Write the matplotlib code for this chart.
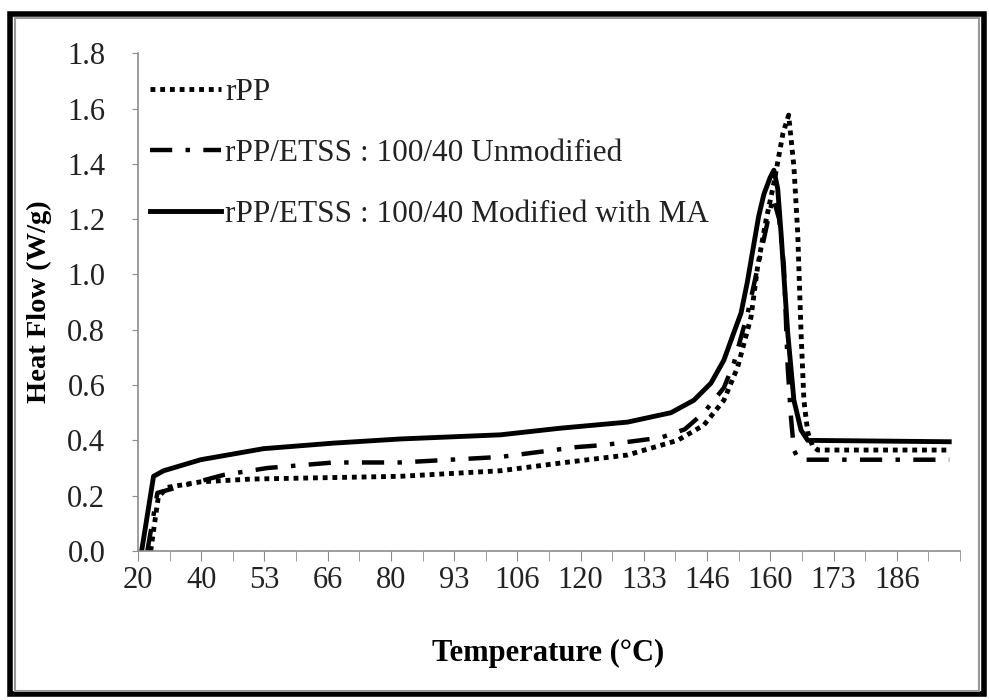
import numpy as np
import matplotlib
matplotlib.use("Agg")
import matplotlib.pyplot as plt
from matplotlib.patches import Rectangle

plt.rcParams['font.family'] = ['Liberation Serif', 'DejaVu Serif']

# temperature (C) and heat flow (W/g)
t_rpp = [29.4, 31.0, 32.9, 39.9, 50.4, 81.8, 102.8, 115.4, 129.5, 140.0, 145.5, 149.7,
         152.6, 155.4, 156.8, 158.6, 160.2, 162.1, 163.3, 164.4, 165.2, 165.9, 166.5,
         167.3, 168.3, 169.4, 197.0]
hf_rpp = [0.0, 0.195, 0.23, 0.25, 0.26, 0.27, 0.29, 0.318, 0.347, 0.40, 0.455, 0.545,
          0.665, 0.846, 1.03, 1.20, 1.33, 1.51, 1.576, 1.39, 1.15, 0.79, 0.545,
          0.43, 0.38, 0.365, 0.365]

t_unmod = [28.7, 30.8, 35.0, 44.7, 53.9, 67.8, 81.8, 102.8, 119.0, 124.5, 136.5, 141.5,
           145.5, 149.7, 151.8, 154.7, 157.5, 159.0, 160.0, 161.3, 162.3, 163.1, 163.8,
           164.4, 165.4, 197.0]
hf_unmod = [0.0, 0.21, 0.23, 0.275, 0.30, 0.32, 0.32, 0.34, 0.376, 0.383, 0.41, 0.44,
            0.50, 0.59, 0.68, 0.86, 1.08, 1.20, 1.28, 1.20, 1.03, 0.665, 0.48,
            0.365, 0.33, 0.33]

t_mod = [27.5, 30.0, 32.1, 39.9, 53.1, 67.8, 81.8, 102.8, 115.4, 129.5, 138.6, 143.4,
         147.0, 149.7, 151.8, 153.3, 154.6, 156.0, 157.0, 158.1, 159.4, 160.2, 161.0,
         161.7, 162.4, 163.1, 164.4, 165.9, 167.3, 197.0]
hf_mod = [0.0, 0.27, 0.29, 0.33, 0.37, 0.39, 0.405, 0.42, 0.444, 0.466, 0.50, 0.545,
          0.607, 0.69, 0.79, 0.86, 0.97, 1.11, 1.21, 1.29, 1.35, 1.377, 1.31,
          1.15, 0.97, 0.79, 0.545, 0.437, 0.40, 0.395]

tick_labels = ['20', '40', '53', '66', '80', '93', '106', '120', '133', '146', '160', '173', '186']
labels = ['rPP', 'rPP/ETSS : 100/40 Unmodified', 'rPP/ETSS : 100/40 Modified with MA']

# excel-style category axis: one step per ~6.64 C
step = 6.636
t0 = 26.73

fig = plt.figure(figsize=(9.89, 7.0), dpi=100)
ax = fig.add_axes([0.1395, 0.2129, 0.8312, 0.7111])

ax.plot(t_rpp, hf_rpp, color='black', lw=3.5, linestyle=(0, (1, 1)), label=labels[0])
ax.plot(t_unmod, hf_unmod, color='black', lw=3.2, linestyle=(0, (5, 3, 1, 3)), label=labels[1])
ax.plot(t_mod, hf_mod, color='black', lw=3.5, linestyle='-', label=labels[2])

ax.set_xlim(t0, t0 + 26 * step)
ax.set_ylim(0, 1.8)
ax.set_xticks([t0 + 2 * i * step for i in range(len(tick_labels))])
ax.set_xticklabels(tick_labels)
ax.set_xticks([t0 + i * step for i in range(27)], minor=True)
ax.set_yticks(np.arange(0, 1.81, 0.2))
ax.set_yticklabels(['%.1f' % v for v in np.arange(0, 1.81, 0.2)])

for s in ['top', 'right']:
    ax.spines[s].set_visible(False)
for s in ['left', 'bottom']:
    ax.spines[s].set_color('#8c8c8c')
    ax.spines[s].set_linewidth(1.2)

ax.tick_params(axis='x', which='both', direction='out', length=7, color='#8c8c8c',
               labelsize=22, pad=4, labelcolor='#222222')
ax.tick_params(axis='y', direction='out', length=4.5, color='#8c8c8c',
               labelsize=22, pad=19, labelcolor='#222222')

ax.set_xlabel('Temperature (°C)', fontsize=22, fontweight='bold')
ax.set_ylabel('Heat Flow (W/g)', fontsize=20.5, fontweight='bold')
ax.xaxis.set_label_coords(0.499, -0.176)
ax.yaxis.set_label_coords(-0.104, 0.5)

leg = ax.legend(loc='upper left', bbox_to_anchor=(0.0, 0.975), frameon=False,
                fontsize=22.5, handlelength=2.25, handletextpad=0.15, labelspacing=1.02,
                borderaxespad=0.2, borderpad=0.2)
for txt in leg.get_texts():
    txt.set_color('#222222')

# picture border
fig.patches.append(Rectangle((0.010, 0.008), 0.985, 0.972, transform=fig.transFigure,
                             fill=False, edgecolor='black', lw=4))
fig.patches.append(Rectangle((0.015, 0.013), 0.975, 0.962, transform=fig.transFigure,
                             fill=False, edgecolor='#999999', lw=1.5))

fig.savefig('out.png', dpi=100)
